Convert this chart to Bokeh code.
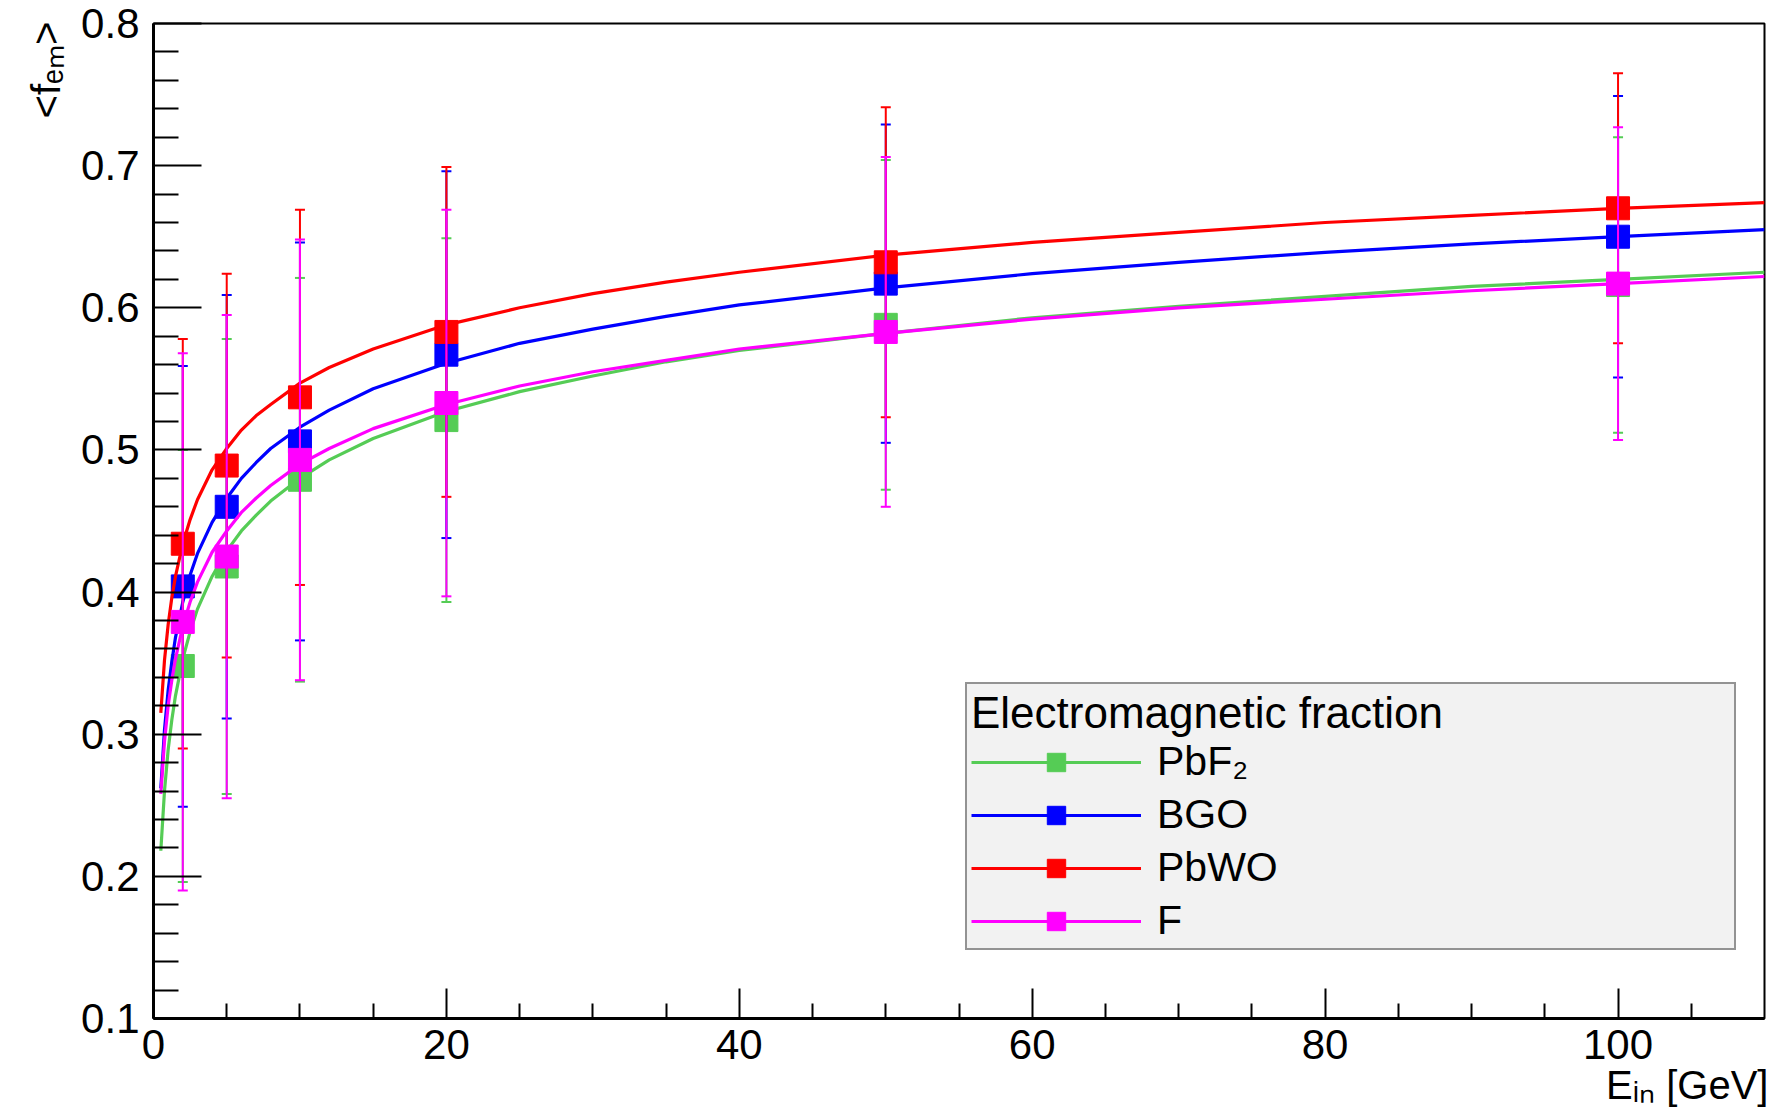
import math
from bokeh.plotting import figure
from bokeh.models import (Range1d, FixedTicker, PrintfTickFormatter, Legend,
                          LegendItem, Label, ColumnDataSource)
from bokeh.embed import file_html
from bokeh.resources import INLINE

# ---------------- data ----------------
energies = [2, 5, 10, 20, 50, 100]
series_names = ["PbF₂", "BGO", "PbWO", "F"]
series_colors = ["#55cc55", "#0000ff", "#ff0000", "#ff00ff"]

fem_pbf2 = [0.348, 0.418, 0.479, 0.521, 0.588, 0.616]
fem_bgo = [0.404, 0.460, 0.506, 0.567, 0.617, 0.650]
fem_pbwo = [0.434, 0.489, 0.537, 0.583, 0.632, 0.670]
fem_f = [0.379, 0.425, 0.493, 0.533, 0.583, 0.617]

err_pbf2 = [0.152, 0.160, 0.142, 0.128, 0.116, 0.104]
err_bgo = [0.155, 0.149, 0.140, 0.129, 0.112, 0.099]
err_pbwo = [0.144, 0.135, 0.132, 0.116, 0.109, 0.095]
err_f = [0.189, 0.170, 0.155, 0.136, 0.123, 0.110]

# fitted curves
curve_e = [0.5, 0.75, 1, 1.25, 1.5, 2, 2.5, 3, 4, 5, 6, 7, 8, 10, 12, 15, 20,
           25, 30, 35, 40, 50, 60, 70, 80, 90, 100, 110]
fit_pbf2 = [0.218, 0.260, 0.289, 0.310, 0.327, 0.353, 0.372, 0.388, 0.411,
            0.429, 0.443, 0.454, 0.464, 0.480, 0.493, 0.508, 0.527, 0.541,
            0.552, 0.562, 0.570, 0.582, 0.593, 0.601, 0.608, 0.615, 0.620,
            0.625]
fit_bgo = [0.262, 0.303, 0.331, 0.351, 0.368, 0.393, 0.412, 0.427, 0.449,
           0.466, 0.480, 0.491, 0.501, 0.516, 0.528, 0.543, 0.561, 0.575,
           0.585, 0.594, 0.602, 0.614, 0.624, 0.632, 0.639, 0.645, 0.650,
           0.655]
fit_pbwo = [0.315, 0.352, 0.377, 0.396, 0.411, 0.434, 0.451, 0.465, 0.486,
            0.501, 0.514, 0.524, 0.532, 0.547, 0.558, 0.571, 0.588, 0.600,
            0.610, 0.618, 0.625, 0.637, 0.646, 0.653, 0.660, 0.665, 0.670,
            0.674]
fit_f = [0.258, 0.295, 0.320, 0.338, 0.353, 0.376, 0.393, 0.407, 0.428,
         0.443, 0.456, 0.466, 0.475, 0.490, 0.501, 0.515, 0.532, 0.545,
         0.555, 0.563, 0.571, 0.582, 0.592, 0.600, 0.606, 0.612, 0.617,
         0.622]

x_tick_values = [0, 20, 40, 60, 80, 100]
x_minor_values = [5, 10, 15, 25, 30, 35, 45, 50, 55, 65, 70, 75, 85, 90, 95, 105]
y_tick_values = [0.1, 0.2, 0.3, 0.4, 0.5, 0.6, 0.7, 0.8]
y_minor_values = [0.12, 0.14, 0.16, 0.18, 0.22, 0.24, 0.26, 0.28, 0.32, 0.34,
                  0.36, 0.38, 0.42, 0.44, 0.46, 0.48, 0.52, 0.54, 0.56, 0.58,
                  0.62, 0.64, 0.66, 0.68, 0.72, 0.74, 0.76, 0.78]

x_title = "Eᵢₙ [GeV]"
y_title = "<fₑₘ>"

values = [fem_pbf2, fem_bgo, fem_pbwo, fem_f]
errors = [err_pbf2, err_bgo, err_pbwo, err_f]
fits = [fit_pbf2, fit_bgo, fit_pbwo, fit_f]

FONT = "Liberation Sans"

p = figure(width=1790, height=1111, x_range=Range1d(0, 110),
           y_range=Range1d(0.1, 0.8), output_backend="svg",
           toolbar_location=None, min_border_left=153, min_border_right=26,
           min_border_top=23, min_border_bottom=93)
p.xgrid.visible = False
p.ygrid.visible = False
p.outline_line_color = "black"
p.outline_line_width = 2
p.background_fill_color = "white"
p.border_fill_color = "white"

xa = p.xaxis[0]
xa.ticker = FixedTicker(ticks=x_tick_values, minor_ticks=x_minor_values)
xa.formatter = PrintfTickFormatter(format="%d")
xa.major_tick_in = 30
xa.major_tick_out = 0
xa.minor_tick_in = 15
xa.minor_tick_out = 0
xa.major_label_standoff = 11

ya = p.yaxis[0]
ya.ticker = FixedTicker(ticks=y_tick_values, minor_ticks=y_minor_values)
ya.formatter = PrintfTickFormatter(format="%.1f")
ya.major_tick_in = 48
ya.major_tick_out = 0
ya.minor_tick_in = 25
ya.minor_tick_out = 0
ya.major_label_standoff = 14

for ax in (xa, ya):
    ax.axis_line_width = 3
    ax.axis_line_color = "black"
    ax.major_tick_line_width = 2
    ax.minor_tick_line_width = 2
    ax.major_tick_line_color = "black"
    ax.minor_tick_line_color = "black"
    ax.major_label_text_font = FONT
    ax.major_label_text_font_size = "42px"
    ax.major_label_text_color = "black"

items = []
for name, col, vals, errs, fit in zip(series_names, series_colors, values,
                                      errors, fits):
    src = ColumnDataSource(dict(
        x=energies, y=vals,
        lo=[v - e for v, e in zip(vals, errs)],
        hi=[v + e for v, e in zip(vals, errs)]))
    cr = p.line(curve_e, fit, line_color=col, line_width=3.2,
                line_join="round")
    p.segment(x0="x", y0="lo", x1="x", y1="hi", source=src,
              line_color=col, line_width=2)
    p.scatter(x="x", y="lo", source=src, marker="dash", size=10,
              line_color=col, line_width=2)
    p.scatter(x="x", y="hi", source=src, marker="dash", size=10,
              line_color=col, line_width=2)
    mr = p.scatter(x="x", y="y", source=src, marker="square", size=23,
                   fill_color=col, line_color=col, line_width=1)
    items.append(LegendItem(label=name, renderers=[cr, mr]))

legend = Legend(items=items, location=(812, 68),
                title="Electromagnetic fraction",
                title_text_font=FONT, title_text_font_size="44px",
                title_text_font_style="normal", title_text_color="black",
                title_standoff=0,
                label_text_font=FONT, label_text_font_size="41px",
                label_text_color="black",
                glyph_width=170, glyph_height=46, label_standoff=16,
                label_width=573, padding=4, spacing=6, margin=0,
                background_fill_color="#f2f2f2", background_fill_alpha=1.0,
                border_line_color="#333333", border_line_width=2)
p.add_layout(legend)

# axis titles, placed in side panels so they are not clipped by the frame
lab_kw = dict(x_units="data", y_units="data", text_font=FONT,
              text_color="black", text_baseline="alphabetic")
p.add_layout(Label(x=110.27, y=0.0535, text=x_title, text_font_size="40px",
                   text_align="right", **lab_kw), "below")
p.add_layout(Label(x=-7.37, y=0.7332, text=y_title, text_font_size="40px",
                   angle=math.pi / 2, text_align="left", **lab_kw), "left")

open("out.html", "w").write(file_html(p, INLINE))
